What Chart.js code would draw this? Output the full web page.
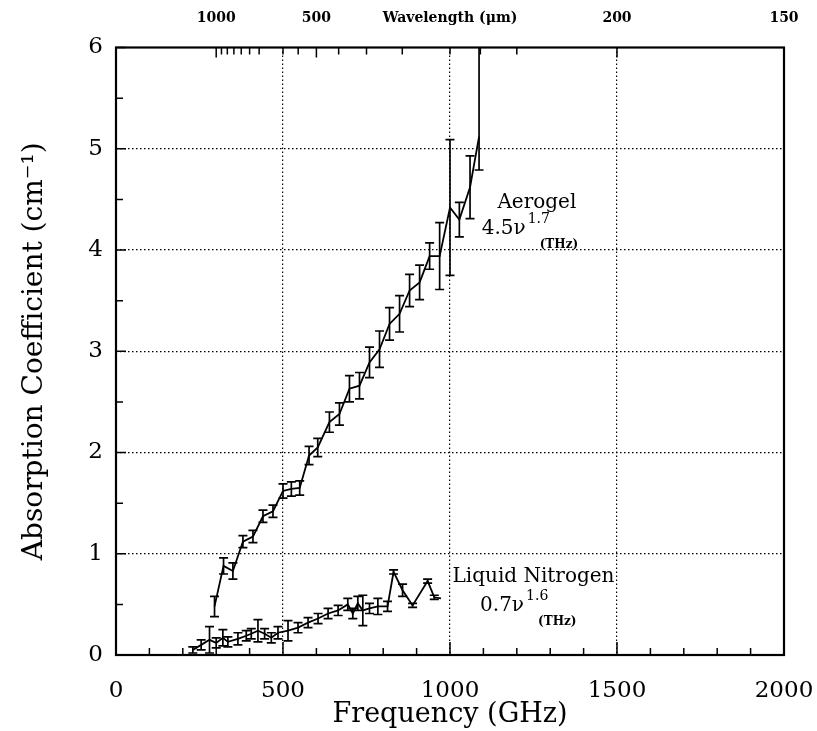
<!DOCTYPE html>
<html>
<head>
<meta charset="utf-8">
<script src="https://cdn.jsdelivr.net/npm/chart.js@4.4.1/dist/chart.umd.min.js"></script>
<style>
  body { margin: 0; background: #fff; }
</style>
</head>
<body>
<canvas id="absorption" width="817" height="731"></canvas>
<script>
// Aerogel, frequency in GHz, absorption in cm^-1
const aeroFreq  = [295, 322, 350, 380, 410, 440, 470, 500, 525, 550, 578, 604, 639, 669, 699, 729, 759, 789, 819, 849, 879, 909, 939, 969, 1000, 1028, 1060, 1087];
const aeroAbs   = [0.48, 0.88, 0.83, 1.12, 1.17, 1.37, 1.42, 1.62, 1.64, 1.65, 1.97, 2.05, 2.30, 2.38, 2.63, 2.66, 2.89, 3.02, 3.27, 3.37, 3.60, 3.68, 3.94, 3.94, 4.42, 4.30, 4.62, 5.12];
const aeroErrLo = [0.10, 0.08, 0.08, 0.06, 0.06, 0.06, 0.06, 0.07, 0.07, 0.07, 0.09, 0.09, 0.10, 0.11, 0.13, 0.13, 0.15, 0.18, 0.16, 0.18, 0.16, 0.17, 0.13, 0.33, 0.67, 0.17, 0.31, 0.33];
const aeroErrHi = [0.10, 0.08, 0.08, 0.06, 0.06, 0.06, 0.06, 0.07, 0.07, 0.07, 0.09, 0.09, 0.10, 0.11, 0.13, 0.13, 0.15, 0.18, 0.16, 0.18, 0.16, 0.17, 0.13, 0.33, 0.67, 0.17, 0.31, 1.20];

// Liquid nitrogen
const nitroFreq = [230, 255, 280, 300, 320, 335, 365, 390, 405, 425, 445, 465, 485, 515, 545, 575, 605, 635, 665, 694, 709, 724, 739, 759, 784, 813, 831, 858, 888, 933, 953, 973];
const nitroAbs  = [0.05, 0.10, 0.15, 0.12, 0.17, 0.13, 0.16, 0.19, 0.21, 0.24, 0.21, 0.17, 0.22, 0.24, 0.27, 0.32, 0.36, 0.41, 0.44, 0.50, 0.41, 0.51, 0.44, 0.46, 0.48, 0.48, 0.82, 0.64, 0.49, 0.73, 0.57, 0.56];
const nitroErr  = [0.03, 0.05, 0.13, 0.05, 0.08, 0.05, 0.06, 0.05, 0.05, 0.11, 0.05, 0.05, 0.06, 0.10, 0.05, 0.05, 0.05, 0.05, 0.05, 0.06, 0.05, 0.07, 0.15, 0.05, 0.08, 0.05, 0.02, 0.06, 0.02, 0.02, 0.02, 0.00];

// Axes
const freqLabels = [0, 500, 1000, 1500, 2000];
const absLabels = [0, 1, 2, 3, 4, 5, 6];
const wavelengthTicks = [1000, 950, 900, 850, 800, 750, 700, 600, 550, 500, 450, 400, 350, 300, 275, 250, 200, 150];
const wavelengthLabels = [1000, 500, 200, 150];

const serif = "'DejaVu Serif', serif";

function getPoints(freq, abs, lo, hi) {
  var points = [];
  freq.forEach((f, i) => {
    points.push({x: f, y: abs[i], lo: lo[i], hi: hi[i]});
  });
  return points;
}

function getChartData() {
  var chartData = {
    datasets: [
      {
        label: "Aerogel",
        data: getPoints(aeroFreq, aeroAbs, aeroErrLo, aeroErrHi),
        borderColor: "#000",
        borderWidth: 1.8,
        pointRadius: 0,
        tension: 0
      },
      {
        label: "Liquid Nitrogen",
        data: getPoints(nitroFreq, nitroAbs, nitroErr, nitroErr),
        borderColor: "#000",
        borderWidth: 1.8,
        pointRadius: 0,
        tension: 0
      }]
  };
  return chartData;
}

// error bars with caps
const errorBars = {
  id: "errorBars",
  afterDatasetsDraw(chart) {
    const ctx = chart.ctx, x = chart.scales.x, y = chart.scales.y, a = chart.chartArea;
    ctx.save();
    ctx.beginPath();
    ctx.rect(a.left, a.top, a.right - a.left, a.bottom - a.top);
    ctx.clip();
    ctx.strokeStyle = "#000";
    ctx.lineWidth = 1.7;
    chart.data.datasets.forEach((ds) => {
      ds.data.forEach((p) => {
        if (!p.lo && !p.hi) return;
        const px = x.getPixelForValue(p.x);
        const top = y.getPixelForValue(p.y + p.hi);
        const bot = y.getPixelForValue(p.y - p.lo);
        ctx.beginPath();
        ctx.moveTo(px, top); ctx.lineTo(px, bot);
        ctx.moveTo(px - 4.5, top); ctx.lineTo(px + 4.5, top);
        ctx.moveTo(px - 4.5, bot); ctx.lineTo(px + 4.5, bot);
        ctx.stroke();
      });
    });
    ctx.restore();
  }
};

// frame and inward tick marks
const frame = {
  id: "frame",
  afterDraw(chart) {
    const ctx = chart.ctx, a = chart.chartArea, s = chart.scales;
    ctx.save();
    ctx.strokeStyle = "#000";
    ctx.lineWidth = 1.5;
    ctx.beginPath();
    s.x.ticks.forEach((t) => {
      const px = s.x.getPixelForValue(t.value);
      const len = t.value % 500 === 0 ? 13 : 7;
      ctx.moveTo(px, a.bottom); ctx.lineTo(px, a.bottom - len);
    });
    s.y.ticks.forEach((t) => {
      const py = s.y.getPixelForValue(t.value);
      const len = Number.isInteger(t.value) ? 10 : 7;
      ctx.moveTo(a.left, py); ctx.lineTo(a.left + len, py);
    });
    wavelengthTicks.forEach((w) => {
      const px = s.x2.getPixelForValue(300000 / w);
      const len = wavelengthLabels.includes(w) ? 10 : 7;
      ctx.moveTo(px, a.top); ctx.lineTo(px, a.top + len);
    });
    ctx.stroke();
    ctx.lineWidth = 2.2;
    ctx.strokeRect(a.left, a.top, a.right - a.left, a.bottom - a.top);
    ctx.restore();
  }
};

// curve annotations, anchored on the data scales
function drawLaw(ctx, x, y, name, coef, power) {
  ctx.font = "20px " + serif;
  ctx.textAlign = "center";
  ctx.fillText(name.text, x.getPixelForValue(name.f), y.getPixelForValue(name.v));
  ctx.textAlign = "left";
  const px = x.getPixelForValue(coef.f), py = y.getPixelForValue(coef.v);
  ctx.fillText(coef.text, px, py);
  const w = ctx.measureText(coef.text).width;
  ctx.font = "14px " + serif;
  ctx.fillText(power, px + w + 2, py - 11);
  ctx.font = "bold 12px " + serif;
  ctx.fillText("(THz)", px + w + 14, py + 14);
}

const labels = {
  id: "labels",
  afterDraw(chart) {
    const ctx = chart.ctx, x = chart.scales.x, y = chart.scales.y;
    ctx.save();
    ctx.fillStyle = "#000";
    drawLaw(ctx, x, y, {text: "Aerogel", f: 1260, v: 4.41}, {text: "4.5\u03BD", f: 1095, v: 4.16}, "1.7");
    drawLaw(ctx, x, y, {text: "Liquid Nitrogen", f: 1250, v: 0.72}, {text: "0.7\u03BD", f: 1090, v: 0.43}, "1.6");
    ctx.restore();
  }
};

// keep the plot box where the original has it
function fixWidth(scale) {
  scale.width = 116;
  scale.paddingTop = 0;
  scale.paddingBottom = 0;
}

function fixHeight(h) {
  return (scale) => {
    scale.height = h;
    scale.paddingLeft = 0;
    scale.paddingRight = 0;
  };
}

function getOptions() {
  var chartOptions = {
    responsive: false,
    animation: false,
    layout: { padding: { left: 0, right: 33, top: 0, bottom: 0 } },
    plugins: {
      legend: { display: false },
      tooltip: { enabled: false }
    },
    scales: {
      x: {
        type: "linear",
        position: "bottom",
        min: 0,
        max: 2000,
        afterFit: fixHeight(76),
        grid: {
          drawTicks: false,
          lineWidth: 1.2,
          color: (c) => (c.tick && c.tick.value % 500 === 0 && c.tick.value > 0 && c.tick.value < 2000) ? "#000" : "rgba(0,0,0,0)"
        },
        border: { display: false, dash: [1.5, 2.5] },
        ticks: {
          stepSize: 100,
          autoSkip: false,
          maxRotation: 0,
          padding: 22,
          color: "#000",
          font: { family: serif, size: 23 },
          callback: (v) => freqLabels.includes(v) ? String(v) : ""
        },
        title: {
          display: true,
          text: "Frequency (GHz)",
          color: "#000",
          font: { family: serif, size: 27 },
          padding: { top: 0, bottom: 0 }
        }
      },
      x2: {
        type: "linear",
        position: "top",
        min: 0,
        max: 2000,
        afterFit: fixHeight(47.5),
        afterBuildTicks: (scale) => {
          scale.ticks = wavelengthLabels.map((w) => ({ value: 300000 / w }));
        },
        grid: { display: false, drawTicks: false },
        border: { display: false },
        ticks: {
          autoSkip: false,
          maxRotation: 0,
          padding: 21,
          color: "#000",
          font: { family: serif, size: 14, weight: "bold" },
          callback: (v) => String(Math.round(300000 / v))
        },
        title: {
          display: true,
          text: "Wavelength (\u03BCm)",
          color: "#000",
          font: { family: serif, size: 14, weight: "bold" },
          padding: { top: 10, bottom: 0 }
        }
      },
      y: {
        type: "linear",
        min: 0,
        max: 6,
        afterFit: fixWidth,
        grid: {
          drawTicks: false,
          lineWidth: 1.2,
          color: (c) => (c.tick && Number.isInteger(c.tick.value) && c.tick.value > 0 && c.tick.value < 6) ? "#000" : "rgba(0,0,0,0)"
        },
        border: { display: false, dash: [1.5, 2.5] },
        ticks: {
          stepSize: 0.5,
          autoSkip: false,
          padding: 13,
          color: "#000",
          font: { family: serif, size: 23 },
          callback: (v) => absLabels.includes(v) ? String(v) : ""
        },
        title: {
          display: true,
          text: "Absorption Coefficient (cm\u207B\u00B9)",
          color: "#000",
          font: { family: serif, size: 28 },
          padding: { top: 18, bottom: 0 }
        }
      }
    }
  };
  return chartOptions;
}

function drawChart(context, data, options) {
  var theChart = new Chart(context, {
    type: "line",
    data: data,
    plugins: [errorBars, frame, labels],
    options: options
  });
  return theChart;
}

var ctx = document.getElementById("absorption");
drawChart(ctx, getChartData(), getOptions());
</script>
</body>
</html>
